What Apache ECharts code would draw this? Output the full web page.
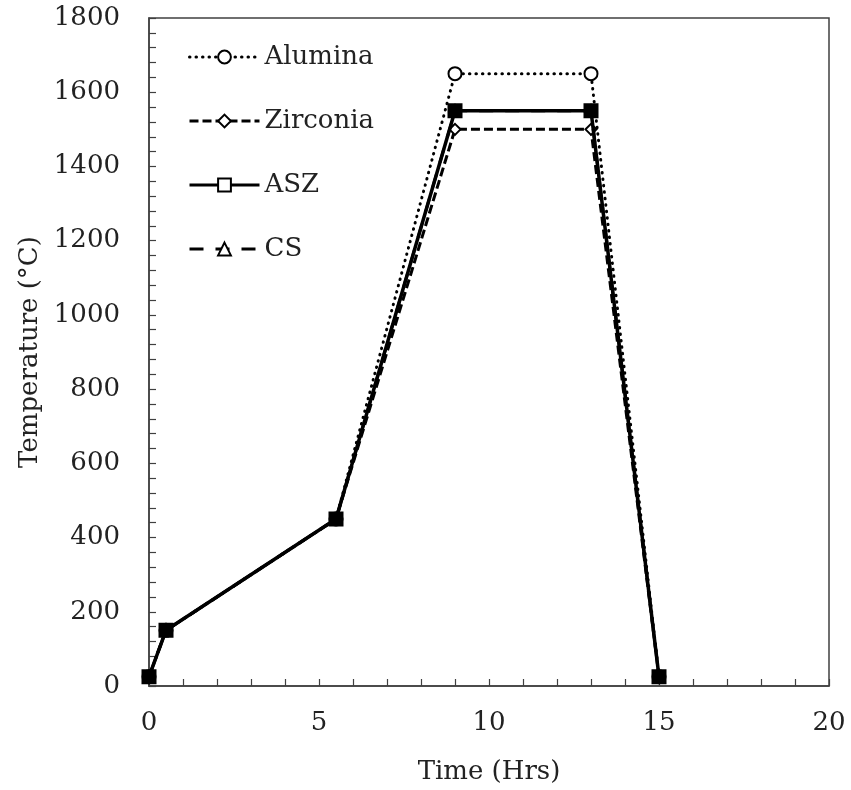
<!DOCTYPE html>
<html>
<head>
<meta charset="utf-8">
<script src="https://cdn.jsdelivr.net/npm/echarts@6/dist/echarts.min.js"></script>
<style>html,body{margin:0;padding:0;background:#fff}#c{width:851px;height:790px}</style>
</head>
<body>
<div id="c"></div>
<script>
const timeHrs = [0, 0.5, 5.5, 9, 13, 15];
const alumina = [25, 150, 450, 1650, 1650, 25];
const zirconia = [25, 150, 450, 1500, 1500, 25];
const asz = [25, 150, 450, 1550, 1550, 25];
const cs = [25, 150, 450, 1550, 1550, 25];
const seriesNames = ['Alumina', 'Zirconia', 'ASZ', 'CS'];
const xTicks = [0, 5, 10, 15, 20];
const yTicks = [0, 200, 400, 600, 800, 1000, 1200, 1400, 1600, 1800];

const pairs = (ys) => timeHrs.map((t, i) => [t, ys[i]]);
const FONT = 'DejaVu Serif';

const chart = echarts.init(document.getElementById('c'), null, {renderer: 'canvas'});
chart.setOption({
  animation: false,
  backgroundColor: '#fff',
  grid: {left: 149, top: 18, right: 22, bottom: 104, show: true, borderColor: '#404040', borderWidth: 1.5, backgroundColor: 'transparent'},
  legend: {
    orient: 'vertical', left: 183, top: 38,
    itemWidth: 70, itemHeight: 16, itemGap: 36,
    lineStyle: {width: 3},
    textStyle: {fontFamily: FONT, fontSize: 26, color: '#222', lineHeight: 28},
    data: [
      {name: seriesNames[0]},
      {name: seriesNames[1]},
      {name: seriesNames[2], itemStyle: {color: '#fff'}},
      {name: seriesNames[3]}
    ]
  },
  xAxis: {
    type: 'value', min: xTicks[0], max: xTicks[xTicks.length - 1], interval: 5,
    name: 'Time (Hrs)', nameLocation: 'middle', nameGap: 73,
    nameTextStyle: {fontFamily: FONT, fontSize: 26, color: '#222'},
    axisLine: {show: true, lineStyle: {color: '#404040', width: 1.5}},
    axisTick: {show: true, inside: true, length: 7, lineStyle: {color: '#404040', width: 1.2}},
    minorTick: {show: true, splitNumber: 5, length: 7, lineStyle: {color: '#404040', width: 1.2}},
    axisLabel: {fontFamily: FONT, fontSize: 26, color: '#222', margin: 24, formatter: (v) => String(v)},
    splitLine: {show: false}
  },
  yAxis: {
    type: 'value', min: yTicks[0], max: yTicks[yTicks.length - 1], interval: 200,
    name: 'Temperature (°C)', nameLocation: 'middle', nameGap: 100,
    nameTextStyle: {fontFamily: FONT, fontSize: 26, color: '#222'},
    axisLine: {show: true, lineStyle: {color: '#404040', width: 1.5}},
    axisTick: {show: true, inside: true, length: 7, lineStyle: {color: '#404040', width: 1.2}},
    minorTick: {show: true, splitNumber: 5, length: 7, lineStyle: {color: '#404040', width: 1.2}},
    axisLabel: {fontFamily: FONT, fontSize: 26, color: '#222', margin: 29, formatter: (v) => String(v)},
    splitLine: {show: false}
  },
  series: [
    {
      name: seriesNames[0], type: 'line', data: pairs(alumina), z: 2, clip: false,
      symbol: 'circle', symbolSize: 13,
      lineStyle: {color: '#000', width: 3, type: [0.5, 6], cap: 'round'},
      itemStyle: {color: '#fff', borderColor: '#000', borderWidth: 2}
    },
    {
      name: seriesNames[1], type: 'line', data: pairs(zirconia), z: 3, clip: false,
      symbol: 'diamond', symbolSize: 11,
      lineStyle: {color: '#000', width: 3, type: [9, 4]},
      itemStyle: {color: '#fff', borderColor: '#000', borderWidth: 2}
    },
    {
      name: seriesNames[3], type: 'line', data: pairs(cs), z: 4, clip: false,
      symbol: 'triangle', symbolSize: 11,
      lineStyle: {color: '#000', width: 3, type: [14, 12]},
      itemStyle: {color: '#fff', borderColor: '#000', borderWidth: 2}
    },
    {
      name: seriesNames[2], type: 'line', data: pairs(asz), z: 5, clip: false,
      symbol: 'rect', symbolSize: 13,
      lineStyle: {color: '#000', width: 3.5, type: 'solid'},
      itemStyle: {color: '#000', borderColor: '#000', borderWidth: 2}
    }
  ]
});
</script>
</body>
</html>
